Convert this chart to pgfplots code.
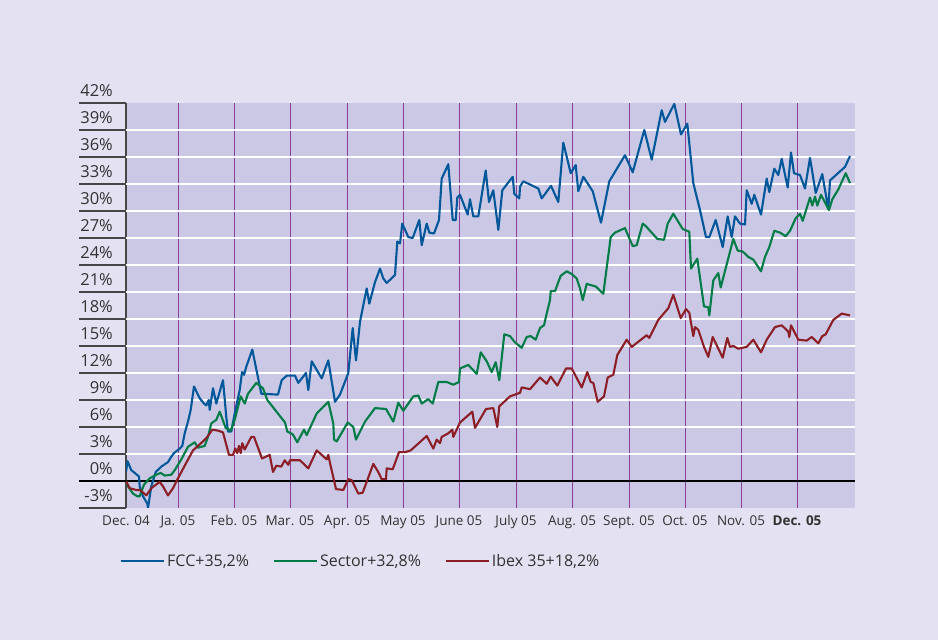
\documentclass[border=0pt]{standalone}
\usepackage{pgfplots}
\pgfplotsset{compat=1.18}
\usepackage{fontspec}
\setmainfont{Open Sans}

\definecolor{pagebg}{RGB}{228,226,242}
\definecolor{plotbg}{RGB}{203,200,229}
\definecolor{monthline}{RGB}{140,60,150}
\definecolor{tickgray}{RGB}{70,70,70}
\definecolor{labelgray}{RGB}{50,50,50}
\definecolor{fccblue}{RGB}{0,88,154}
\definecolor{sectorgreen}{RGB}{0,125,70}
\definecolor{ibexred}{RGB}{140,30,38}

\begin{document}
\begin{tikzpicture}
\fill[pagebg] (0pt,0pt) rectangle (938pt,640pt);
\begin{axis}[
    at={(126pt,132pt)}, anchor=south west,
    width=729pt, height=405pt, scale only axis,
    xmin=126, xmax=855, ymin=-3, ymax=42,
    axis background/.style={fill=plotbg},
    axis y line*=left, axis x line*=bottom,
    x axis line style={draw=none},
    y axis line style={draw=tickgray, line width=1.4pt},
    major tick length=0pt,
    xtick={126,178,234,290,347,403,459,516,572,629,685,741,797},
    xticklabels={Dec. 04,Ja. 05,Feb. 05,Mar. 05,Apr. 05,May 05,June 05,July 05,Aug. 05,Sept. 05,Oct. 05,Nov. 05,\textbf{Dec. 05}},
    xmajorgrids,
    x grid style={monthline, line width=0.9pt},
    ytick={-3,0,3,6,9,12,15,18,21,24,27,30,33,36,39,42},
    yticklabels={-3\%,0\%,3\%,6\%,9\%,12\%,15\%,18\%,21\%,24\%,27\%,30\%,33\%,36\%,39\%,42\%},
    xticklabel style={font=\fontsize{13.5}{13.5}\selectfont, text=labelgray, anchor=base, yshift=-17.7pt, inner sep=0pt},
    yticklabel style={font=\fontsize{16.5}{16.5}\selectfont, text=labelgray, anchor=base east, xshift=-13pt, yshift=6pt, inner sep=0pt},
    legend columns=3,
    legend style={at={(axis description cs:-0.0082,-0.131)}, anchor=west, draw=none, fill=none, inner sep=0pt,
        font=\fontsize{16}{16}\selectfont, text=labelgray,
        /tikz/every even column/.append style={column sep=22pt}},
    legend image code/.code={\draw[#1, line width=2pt] (0pt,0pt) -- (43pt,0pt);},
    line join=round,
]
\pgfplotsinvokeforeach{3,6,9,12,15,18,21,24,27,30,33,36,39}{
    \draw[white, line width=2pt] (axis cs:126,#1) -- (axis cs:855,#1);
}
\draw[black, line width=1.2pt] (axis cs:126,0) -- (axis cs:855,0);

% FCC
\addplot[fccblue, line width=2.1pt] table {
x y
126 1.0
127.5 2.2
131.3 1.2
134.7 0.9
139 0.5
139.7 -0.6
143 -1.7
147.3 -2.5
148 -3.0
151.3 -0.6
155.7 1.0
161.3 1.6
168 2.1
171.3 2.7
174 3.1
179.7 3.6
182.3 3.9
184.7 5.3
188 6.6
190.7 7.9
194 10.5
199.7 9.2
204 8.6
206.3 8.4
208.7 9.0
209.7 7.9
213 10.3
216.3 8.6
223 11.2
226.3 7.1
228 5.5
231.3 5.5
234.7 7.5
239.7 10.1
242 12.1
244 11.8
246.3 12.7
252.3 14.6
261.3 9.7
278 9.6
281.7 11.2
286.7 11.7
291.7 11.7
295 11.7
298.3 10.9
306 12.0
308.3 10.1
311.7 13.3
321.7 11.4
328.3 13.4
335 8.8
340 9.6
348.3 12.0
352.7 17.0
356 13.4
360 17.7
366.7 21.4
369.3 19.7
375 22.1
380 23.6
383.3 22.5
386.7 22.0
395 22.9
397.3 26.6
400 26.4
402.3 28.6
408.3 27.1
412.7 27.0
419.3 29.0
421.7 26.2
426.7 28.6
429.3 27.6
434 27.5
439 29.0
441.7 33.6
448.3 35.2
452.7 29.0
455.7 29.0
457.3 31.5
460 31.8
467.7 29.6
470 31.3
473.3 29.4
478.3 29.4
485.7 34.5
489 31.0
493.3 32.3
498.3 27.9
502.3 32.3
512.7 33.8
514.3 31.9
519.3 31.4
520 32.7
523.3 33.3
538.3 32.5
541.7 31.4
551 32.8
558.3 31.0
563.3 37.6
570.7 34.2
575.7 35.1
578.3 32.2
583.3 33.8
592.7 32.2
601 28.7
609.3 33.3
625 36.2
632.7 34.3
644.3 39.0
651.7 35.7
661.7 41.2
665 39.9
674.3 41.9
681 38.5
687.3 39.7
693.3 33.1
700 30.1
706 27.1
709.3 27.1
715.7 29.0
722.7 26.0
727.7 29.4
731.7 27.1
735 29.4
740 28.6
745 28.5
746.7 32.3
751.7 30.8
754.3 31.8
761 29.6
766.7 33.6
769.3 32.1
774.3 34.7
778.3 34.0
781.7 35.8
787.7 32.6
791 36.5
794 34.2
800 34.0
805 32.5
810 35.9
815.7 32.0
822.3 34.1
828.3 30.2
830 33.4
845 34.9
850 36.1
};
\addlegendentry{FCC+35,2\%}

% Sector
\addplot[sectorgreen, line width=2.1pt] table {
x y
126 0
128 -0.6
133 -1.4
137.3 -1.7
139.7 -1.7
144 -0.4
149.7 0.3
156.3 0.7
160.7 0.9
164.7 0.6
171.3 0.7
174.7 1.2
181.3 2.4
188 3.8
194.7 4.3
198 3.7
204.7 3.9
208 4.9
211.3 6.4
216.3 6.8
219.7 7.7
225.7 5.9
230.7 5.6
234.7 6.8
240.7 9.4
244.7 8.6
248 9.7
256.3 10.9
263 10.3
267.3 9.0
285 6.5
287.3 5.5
292.7 5.2
297.3 4.3
304 5.7
306.7 5.1
316.7 7.5
328.3 8.8
333.3 6.4
334 4.6
336.7 4.4
347.7 6.5
353.3 6.0
356 4.6
365 6.6
375 8.1
386 8.0
393.3 6.6
398.3 8.7
403.3 7.8
413.3 9.4
418.3 9.5
421.7 8.6
428.3 9.1
432.7 8.6
438.3 11.0
446.7 11.0
453.3 10.7
459 11.0
460 12.5
468.3 12.9
476.7 11.9
480.7 14.3
486.7 13.3
491.7 12.1
495.7 13.2
499.3 11.2
504.3 16.3
510 16.1
515 15.4
521.7 14.8
526.7 16.0
530.7 16.1
535.7 15.7
540 17.0
544 17.3
546.7 18.6
550 20.1
550.7 21.1
555 21.1
560.7 22.8
566.7 23.3
571.7 23.0
576.7 22.5
580 21.4
582.7 20.1
586.7 21.9
596 21.6
603.3 20.8
610.7 27.1
615 27.6
625 28.1
632.7 26.1
636.7 26.2
642.7 28.6
646 28.3
657.3 26.9
664 26.8
667.7 28.6
673.3 29.7
682.7 28.0
689.3 27.7
691 23.6
697.3 24.7
704 19.4
708.3 19.3
709.3 18.4
713.3 22.3
718.3 23.1
720.7 21.5
733.3 26.9
737.7 25.6
742.7 25.5
748.3 24.9
753.3 24.6
761 23.3
765 24.9
769.3 26.0
774.3 27.8
780 27.6
785.7 27.2
790 27.8
795.7 29.2
800 29.7
802.7 28.9
810 31.5
812.3 30.6
815 31.6
817.3 30.6
821 31.8
829 30.1
832.3 31.3
838.3 32.4
845.7 34.2
850 33.1
};
\addlegendentry{Sector+32,8\%}

% Ibex 35
\addplot[ibexred, line width=2.1pt] table {
x y
126 0
129.7 -0.8
136.3 -1.0
140 -1.0
146.3 -1.6
151.3 -0.8
159.7 -0.1
163 -0.6
168 -1.6
173 -0.8
178 0.3
184.7 1.7
193 3.4
203 4.4
207.3 4.9
212.3 5.7
218 5.6
223 5.4
229 2.9
233 2.9
235.3 3.6
237.3 3.1
239 3.9
240.7 3.1
242.3 4.2
244.7 3.5
251.3 4.9
254 4.9
262 2.5
269.7 2.9
273 1.0
276.3 1.7
281.3 1.6
284.7 2.3
288.3 1.8
290 2.3
300 2.3
308.3 1.4
316.7 3.4
326.7 2.4
328.3 2.9
330 2.0
336 -0.9
343.3 -1.0
348.3 0.2
351.7 0.1
358.3 -1.4
362.7 -1.3
373.3 1.9
378.3 1.0
381.7 0.2
386 0.2
386.7 1.4
392.7 1.3
399 3.2
405 3.2
410.7 3.4
416.7 4.0
426.7 5.0
433.3 3.6
436.7 4.6
440 4.2
441.7 4.9
448.3 5.3
452.3 5.7
453.3 4.9
460 6.5
472.3 7.7
475 5.9
486 8.0
493.3 8.1
497.3 6.0
499.3 8.3
510 9.4
520 9.8
521.7 10.4
530 10.2
540 11.5
546.7 10.8
550.7 11.6
557.3 10.6
566 12.5
571.7 12.5
581.7 10.4
587.3 12.1
590.7 11.0
593.3 10.9
597.7 8.8
604 9.4
607.7 11.5
613.3 11.8
617.3 14.0
626.7 15.7
631.7 14.9
646.7 16.2
649.3 15.9
658.3 17.9
668.3 19.2
673.3 20.7
680.7 18.1
686 19.1
689.3 18.7
693.3 16.1
695 17.1
698.3 16.8
704 14.9
708.3 13.8
712.7 16.0
722.7 13.7
727.3 15.9
730 14.9
733.3 15.0
738.3 14.7
746.7 14.9
753.3 15.7
761 14.3
766.7 15.7
775 17.1
781.7 17.3
788.3 16.6
789.3 16.0
791 17.3
798.3 15.7
806.7 15.6
811.7 16.0
818.3 15.3
822.3 16.1
825.7 16.3
833.3 17.9
841.7 18.6
850 18.4
};
\addlegendentry{Ibex 35+18,2\%}
\end{axis}
\foreach \k in {0,...,15}{
    \draw[tickgray, line width=1.3pt] (79pt,{(132+27*\k)*1pt}) -- (126pt,{(132+27*\k)*1pt});
}
\draw[black, line width=1.2pt] (79pt,159pt) -- (126pt,159pt);
\end{tikzpicture}
\end{document}
